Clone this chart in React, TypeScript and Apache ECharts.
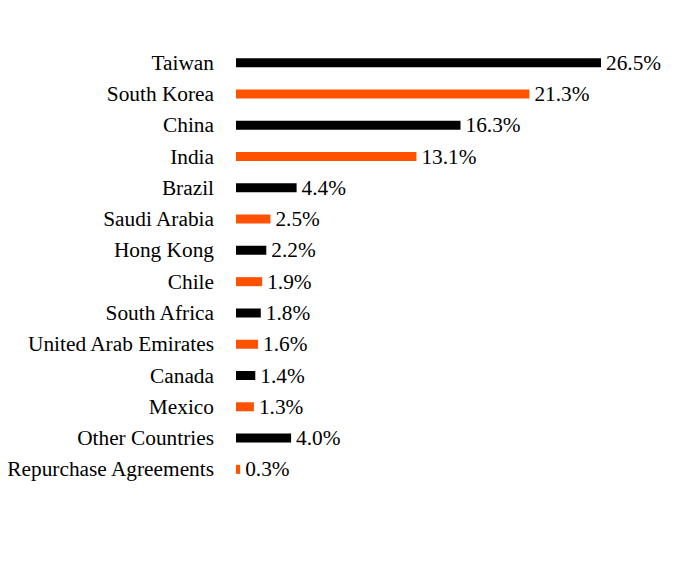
import React, { useEffect, useRef } from 'react';
import * as echarts from 'echarts';

const countries = [
  'Taiwan', 'South Korea', 'China', 'India', 'Brazil', 'Saudi Arabia', 'Hong Kong',
  'Chile', 'South Africa', 'United Arab Emirates', 'Canada', 'Mexico',
  'Other Countries', 'Repurchase Agreements',
];
const weights = [26.5, 21.3, 16.3, 13.1, 4.4, 2.5, 2.2, 1.9, 1.8, 1.6, 1.4, 1.3, 4.0, 0.3];
const barColors = ['#000000', '#FF5200'];

const FONT = 'Liberation Serif';

export default function App() {
  const ref = useRef<HTMLDivElement>(null);

  useEffect(() => {
    if (!ref.current) return;
    const chart = echarts.init(ref.current, null, { renderer: 'svg' });
    chart.setOption({
      animation: false,
      backgroundColor: '#ffffff',
      grid: { left: 236, top: 47, width: 365, height: 438 },
      xAxis: { type: 'value', min: 0, max: 26.5, show: false },
      yAxis: {
        type: 'category',
        inverse: true,
        data: countries,
        axisLine: { show: false },
        axisTick: { show: false },
        axisLabel: { color: '#000', fontFamily: FONT, fontSize: 21.33, margin: 22 },
      },
      series: [{
        type: 'bar',
        barWidth: 9,
        data: weights.map((v, i) => ({ value: v, itemStyle: { color: barColors[i % 2] } })),
        label: {
          show: true,
          position: 'right',
          distance: 5,
          color: '#000',
          fontFamily: FONT,
          fontSize: 21.33,
          formatter: (p: any) => `${p.value.toFixed(1)}%`,
        },
      }],
    });
    return () => chart.dispose();
  }, []);

  return <div ref={ref} style={{ position: 'fixed', left: 0, top: 0, width: 696, height: 564 }} />;
}
